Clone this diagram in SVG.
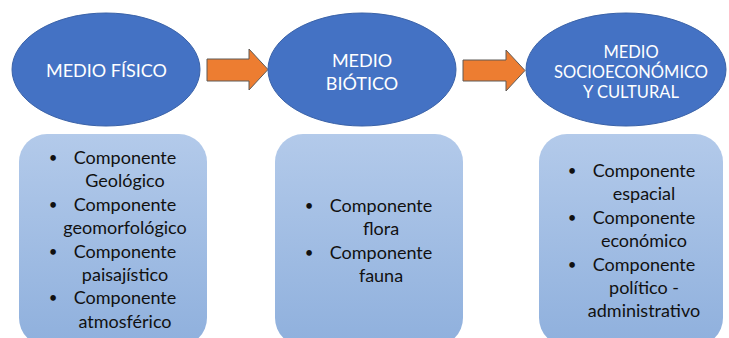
<svg xmlns="http://www.w3.org/2000/svg" width="729" height="338" viewBox="0 0 729 338">
<defs>
<linearGradient id="boxg" x1="0" y1="0" x2="0" y2="1">
<stop offset="0" stop-color="#b3caea"/>
<stop offset="1" stop-color="#8fb0dd"/>
</linearGradient>
<style>
.ell{fill:#4472c4;stroke:#3a62a8;stroke-width:1}
.arr{fill:#ed7d31;stroke:#5f5a57;stroke-width:1}
.box{fill:url(#boxg);stroke:none}
.et{font-family:Lato,"Liberation Sans",sans-serif;font-size:18px;fill:#ffffff;text-anchor:middle}
.et3{font-family:Lato,"Liberation Sans",sans-serif;font-size:16.5px;fill:#ffffff;text-anchor:middle}
.bt{font-family:Lato,"Liberation Sans",sans-serif;font-size:18px;fill:#111111;text-anchor:middle}
.bl{font-family:Lato,"Liberation Sans",sans-serif;font-size:15px;fill:#111111;text-anchor:middle}
</style>
</defs>
<rect width="729" height="338" fill="#ffffff"/>
<g id="connectors">
<polygon class="arr" points="207,59 249,59 249,49 268,69.5 249,90 249,81 207,81"/>
<polygon class="arr" points="463,60 506,60 506,50 525,70.5 506,91 506,81 463,81"/>
</g>
<g id="medio-fisico">
<ellipse class="ell" cx="106" cy="69.5" rx="94" ry="56.5"/>
<text class="et" x="106.5" y="77">MEDIO FÍSICO</text>
</g>
<g id="medio-biotico">
<ellipse class="ell" cx="362" cy="69.5" rx="94" ry="56.5"/>
<text class="et" x="362" y="67">MEDIO</text>
<text class="et" x="362" y="90">BIÓTICO</text>
</g>
<g id="medio-socioeconomico">
<ellipse class="ell" cx="626" cy="69.5" rx="100" ry="56.5"/>
<text class="et3" x="631" y="58">MEDIO</text>
<text class="et3" x="631" y="78">SOCIOECONÓMICO</text>
<text class="et3" x="631" y="98">Y CULTURAL</text>
</g>
<g id="box-fisico">
<rect class="box" x="19" y="134" width="188" height="212" rx="28" ry="28"/>
<text class="bl" x="53" y="163">•</text>
<text class="bt" x="125" y="164">Componente</text>
<text class="bt" x="125" y="187.4">Geológico</text>
<text class="bl" x="53" y="209.8">•</text>
<text class="bt" x="125" y="210.8">Componente</text>
<text class="bt" x="125" y="234.2">geomorfológico</text>
<text class="bl" x="53" y="256.6">•</text>
<text class="bt" x="125" y="257.6">Componente</text>
<text class="bt" x="125" y="281">paisajístico</text>
<text class="bl" x="53" y="303.4">•</text>
<text class="bt" x="125" y="304.4">Componente</text>
<text class="bt" x="125" y="327.8">atmosférico</text>
</g>
<g id="box-biotico">
<rect class="box" x="275" y="134" width="188" height="212" rx="28" ry="28"/>
<text class="bl" x="309" y="211">•</text>
<text class="bt" x="381" y="212">Componente</text>
<text class="bt" x="381" y="235.4">flora</text>
<text class="bl" x="309" y="257.8">•</text>
<text class="bt" x="381" y="258.8">Componente</text>
<text class="bt" x="381" y="282.2">fauna</text>
</g>
<g id="box-socioeconomico">
<rect class="box" x="539" y="134" width="184" height="212" rx="28" ry="28"/>
<text class="bl" x="572" y="176">•</text>
<text class="bt" x="644" y="177">Componente</text>
<text class="bt" x="644" y="200.4">espacial</text>
<text class="bl" x="572" y="222.8">•</text>
<text class="bt" x="644" y="223.8">Componente</text>
<text class="bt" x="644" y="247.2">económico</text>
<text class="bl" x="572" y="269.6">•</text>
<text class="bt" x="644" y="270.6">Componente</text>
<text class="bt" x="644" y="294">político -</text>
<text class="bt" x="644" y="317.4">administrativo</text>
</g>
</svg>
